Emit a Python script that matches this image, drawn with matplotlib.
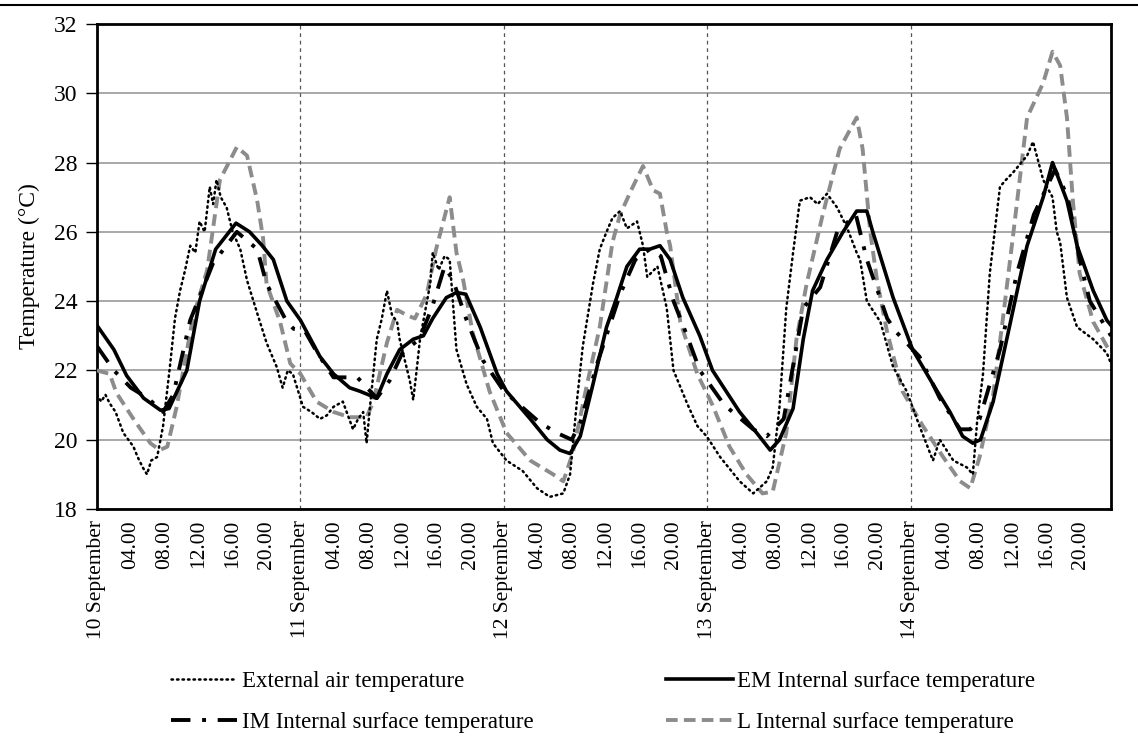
import matplotlib.pyplot as plt
from matplotlib.lines import Line2D

plt.rcParams['font.family'] = ['Liberation Serif', 'DejaVu Serif']

# (hour since 10 September 00.00, temperature in degC)
ext = [(0, 21.3), (0.5, 21.1), (1, 21.3), (1.5, 21.05), (2.2, 20.8), (3.1, 20.2), (3.7, 20.0),
       (4.3, 19.8), (4.8, 19.5), (5.4, 19.2), (5.9, 19.0), (6.4, 19.4), (7.1, 19.5), (7.8, 20.4),
       (8.6, 22.1), (9.2, 23.5), (9.8, 24.3), (10.4, 24.9), (11, 25.6), (11.6, 25.4), (12.1, 26.3),
       (12.7, 26.0), (13.3, 27.3), (13.7, 26.8), (14.1, 27.5), (14.6, 27.0), (15.3, 26.7), (16, 26.0),
       (16.9, 25.5), (17.7, 24.6), (18.9, 23.65), (20, 22.8), (21.2, 22.1), (21.9, 21.5), (22.5, 22.0),
       (23.1, 21.9), (24.3, 20.95), (25.3, 20.8), (26.3, 20.6), (27.1, 20.7), (27.9, 20.95), (29, 21.1),
       (29.6, 20.7), (30.2, 20.3), (30.8, 20.6), (31.4, 20.8), (31.8, 19.9), (32.2, 20.95), (33, 22.9),
       (33.6, 23.5), (34.2, 24.3), (34.8, 23.6), (35.4, 23.4), (35.7, 22.9), (36.9, 21.7), (37.3, 21.15),
       (37.7, 22.0), (38.1, 22.9), (39.3, 24.5), (39.6, 25.4), (40.3, 24.9), (41, 25.3), (41.6, 25.2),
       (42.4, 22.6), (43.6, 21.6), (44.8, 20.95), (46, 20.6), (46.7, 19.9), (48.3, 19.4), (50.2, 19.1),
       (51.9, 18.6), (53.4, 18.35), (55, 18.45), (55.8, 19.0), (56.6, 21.1), (57.3, 22.7), (58.5, 24.5),
       (59.3, 25.5), (60.1, 26.0), (60.8, 26.4), (61.7, 26.6), (62.5, 26.1), (63.7, 26.3), (64.4, 25.6),
       (64.9, 24.7), (66.1, 25.0), (67.2, 23.8), (68, 22.0), (69.6, 21.05), (70.8, 20.4), (71.9, 20.1),
       (73.5, 19.5), (75.8, 18.8), (77.4, 18.45), (79, 18.8), (79.7, 19.2), (80.5, 20.95), (81.3, 23.8),
       (82.1, 25.4), (82.9, 26.9), (84.1, 27.0), (85, 26.8), (86.1, 27.1), (87.3, 26.7), (88.5, 26.1),
       (89.6, 25.4), (90, 25.2), (90.8, 24.0), (92.4, 23.4), (93.9, 22.1), (95.5, 21.4), (97, 20.4),
       (98.6, 19.4), (99.4, 20.0), (101, 19.4), (102.6, 19.2), (103.3, 19.0), (103.8, 20.5), (104.5, 21.9),
       (105.3, 24.8), (106.5, 27.3), (107.2, 27.5), (108, 27.7), (109.7, 28.2), (110.4, 28.6), (111.6, 27.5),
       (112.7, 27.0), (113.2, 26.0), (113.6, 25.7), (114.4, 24.1), (115.6, 23.25), (117.5, 22.9),
       (119.1, 22.5), (119.6, 22.2)]

em = [(0, 23.3), (2, 22.6), (3.5, 21.85), (5.5, 21.2), (7.5, 20.85), (8.5, 20.9), (10.6, 22.0),
      (12.1, 24.0), (14, 25.5), (16.4, 26.25), (18, 26.0), (19.5, 25.6), (20.8, 25.2), (22.4, 24.0),
      (24, 23.45), (26.3, 22.4), (27.9, 21.9), (29.8, 21.5), (31, 21.4), (33, 21.2), (34.2, 21.9),
      (35.7, 22.6), (37.3, 22.9), (38.5, 23.0), (39.6, 23.5), (41.2, 24.1), (42.4, 24.25), (43.5, 24.2),
      (45.2, 23.25), (47.2, 21.9), (48.3, 21.4), (51.1, 20.6), (53.1, 20.0), (54.6, 19.7), (55.8, 19.6),
      (57, 20.1), (58.5, 21.6), (60.1, 23.25), (61.3, 24.1), (62.5, 25.0), (64, 25.5), (65.2, 25.5),
      (66.4, 25.6), (67.6, 25.2), (69.1, 24.1), (71.1, 23.0), (72.6, 22.0), (75.8, 20.8), (77.8, 20.2),
      (79.4, 19.7), (80.5, 20.0), (82.1, 20.9), (83.3, 22.9), (84.4, 24.3), (86.1, 25.2), (88, 26.0),
      (89.6, 26.6), (90.8, 26.6), (91.5, 26.0), (93.9, 24.1), (96.2, 22.6), (98.6, 21.6), (100.6, 20.8),
      (102.1, 20.1), (103.3, 19.9), (104.2, 20.0), (105.7, 21.1), (107.3, 22.9), (108.8, 24.6),
      (109.7, 25.6), (111.6, 27.0), (112.7, 28.0), (114.4, 26.9), (115.6, 25.6), (117.5, 24.3),
      (119.1, 23.45), (119.6, 23.3)]

im = [(0, 22.7), (2, 22.0), (4, 21.5), (6, 21.2), (7.8, 20.8), (9, 21.3), (11, 23.45), (13.7, 25.1),
      (16.5, 26.0), (18.9, 25.5), (20, 24.5), (22.4, 23.4), (23.2, 23.2), (24.5, 23.15), (26, 22.5),
      (27.9, 21.8), (30.7, 21.8), (33, 21.2), (34.5, 21.7), (36, 22.5), (38, 22.9), (39.5, 23.8),
      (41, 25.0), (42, 24.6), (43.6, 23.45), (45.5, 22.3), (48, 21.4), (52.2, 20.5), (54.2, 20.2),
      (56, 20.0), (57, 20.5), (59, 22.2), (61.7, 24.2), (63.5, 25.2), (65.2, 25.5), (66.5, 25.3),
      (68, 24.0), (69.6, 23.0), (71.1, 22.0), (74, 21.0), (77.4, 20.3), (79, 20.1), (81, 20.6),
      (83.3, 23.8), (85.3, 24.4), (87.3, 26.0), (89.5, 26.5), (90.8, 25.2), (93.2, 23.5), (94.3, 23.1),
      (97, 22.4), (99.4, 21.2), (101.8, 20.3), (103, 20.3), (104.1, 20.6), (106.5, 22.6), (108.5, 24.8),
      (110.5, 26.5), (113, 27.8), (114.5, 27.0), (115.9, 25.2), (117.1, 24.0), (119.6, 23.0)]

lw_ = [(0, 22.0), (1.5, 21.9), (2.3, 21.35), (4.3, 20.6), (6.3, 19.9), (7.4, 19.7), (8.3, 19.8),
       (9.4, 20.95), (11.3, 23.5), (13, 24.9), (14.5, 27.5), (16.5, 28.45), (17.7, 28.2), (18.9, 26.9),
       (19.6, 25.8), (20, 24.5), (21.6, 23.4), (22.8, 22.2), (24, 21.9), (25.9, 21.1), (27.9, 20.8),
       (29.8, 20.65), (31.8, 20.65), (32.6, 21.1), (34.2, 22.8), (35.4, 23.75), (36.5, 23.6),
       (37.5, 23.5), (38.9, 24.2), (40, 25.5), (41.6, 27.0), (42.4, 25.4), (43.2, 24.6), (44.3, 23.1),
       (46.3, 21.4), (48.3, 20.2), (51.1, 19.4), (53.8, 19.0), (55, 18.8), (56.1, 19.6), (57.8, 21.6),
       (59.3, 23.25), (60.8, 25.7), (61.7, 26.5), (63, 27.2), (64.4, 27.9), (65.6, 27.2), (66.4, 27.1),
       (67.2, 26.0), (67.6, 25.6), (68.8, 23.4), (70.8, 21.9), (72.6, 21.0), (74.6, 19.8), (76.6, 19.0),
       (78.5, 18.45), (79.7, 18.5), (81.3, 20.2), (82.5, 22.9), (83.7, 24.5), (85.6, 26.5), (87.6, 28.4),
       (89.6, 29.3), (90.3, 28.4), (91.2, 26.0), (92, 24.6), (93.2, 23.1), (95, 21.4), (97.4, 20.4),
       (99.8, 19.5), (101.8, 18.8), (103, 18.6), (104.1, 19.5), (105.7, 21.3), (106.8, 23.4), (108, 25.8),
       (109.7, 29.3), (111.6, 30.3), (112.7, 31.2), (113.6, 30.8), (114.4, 29.3), (115.1, 26.9),
       (115.9, 24.8), (117.5, 23.4), (119.1, 22.7), (119.6, 22.5)]

labels = ['External air temperature', 'EM Internal surface temperature',
          'IM Internal surface temperature', 'L Internal surface temperature']
days = ['10 September', '11 September', '12 September', '13 September', '14 September']
tick_hours = list(range(0, 120, 4))

fig = plt.figure(figsize=(11.38, 7.38), dpi=100)
ax = fig.add_axes([0.0852, 0.3103, 0.8911, 0.6572])

def xy(s):
    return [p[0] for p in s], [p[1] for p in s]

h, t = xy(ext)
ax.plot(h, t, color='black', lw=1.8, ls=(0, (0.6, 1.6)), dash_capstyle='round', label=labels[0], zorder=4)
h, t = xy(em)
ax.plot(h, t, color='black', lw=2.6, label=labels[1], zorder=5)
h, t = xy(im)
ax.plot(h, t, color='black', lw=2.8, ls=(0, (5, 3, 1, 3)), label=labels[2], zorder=4)
h, t = xy(lw_)
ax.plot(h, t, color='#8c8c8c', lw=2.8, ls=(0, (3, 1.6)), label=labels[3], zorder=3)

ax.set_xlim(0, 119.6)
ax.set_ylim(18, 32)
ax.set_yticks(range(18, 33, 2))
ax.yaxis.grid(True, color='#9a9a9a', lw=1.2)
ax.set_axisbelow(True)
for d in range(1, 5):
    ax.axvline(d * 24, color='#555555', lw=0.9, ls=(0, (3, 3)), zorder=1)

ax.set_xticks(tick_hours)
ax.set_xticklabels([days[hh // 24] if hh % 24 == 0 else f'{hh % 24:02d}.00' for hh in tick_hours],
                   rotation=90, fontsize=15.5)
ax.tick_params(axis='x', length=0, pad=8)
ax.tick_params(axis='y', labelsize=17, length=8, width=1, direction='out', pad=6)
for s in ax.spines.values():
    s.set_linewidth(2)
ax.set_ylabel('Temperature (°C)', fontsize=17, labelpad=10)

hs, ls = ax.get_legend_handles_labels()
order = [0, 2, 1, 3]
fig.legend([hs[i] for i in order], [ls[i] for i in order], ncol=2, frameon=False, fontsize=16.5,
           loc='center', bbox_to_anchor=(0.53, 0.049), handlelength=2.9, handletextpad=0.2,
           columnspacing=5.8, labelspacing=0.9)

fig.add_artist(Line2D([0, 1], [0.993, 0.993], color='black', lw=1.5, transform=fig.transFigure))

plt.savefig('out.png', dpi=100)
